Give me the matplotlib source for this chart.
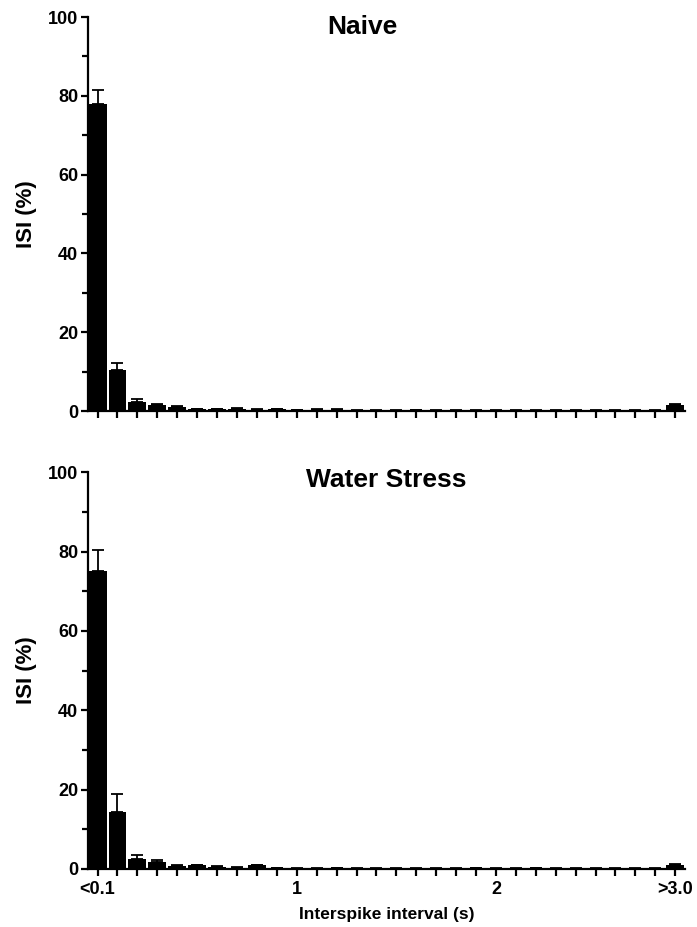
import numpy as np
import matplotlib
matplotlib.use('Agg')
import matplotlib.pyplot as plt
from matplotlib.ticker import MultipleLocator

plt.rcParams['font.family'] = ['Liberation Sans', 'DejaVu Sans']
plt.rcParams['font.weight'] = 'bold'

# 30 bins of 0.1 s: <0.1 ... >3.0
tick_labels = {0: '<0.1', 10: '1', 20: '2', 29: '>3.0'}

naive_mean = [78.0, 10.5, 2.3, 1.5, 1.0, 0.4, 0.5, 0.6, 0.3, 0.4,
              0.2, 0.3, 0.3, 0.1, 0.1, 0.1, 0.2, 0.1, 0.1, 0.1,
              0.1, 0.1, 0.1, 0.1, 0.1, 0.1, 0.1, 0.1, 0.1, 1.5]
naive_err = [3.5, 1.8, 0.7, 0.3, 0.2, 0.1, 0.1, 0.2, 0.1, 0.1,
             0.05, 0.1, 0.1, 0.05, 0.05, 0.05, 0.1, 0.05, 0.05, 0.05,
             0.05, 0.05, 0.05, 0.05, 0.05, 0.05, 0.05, 0.05, 0.05, 0.3]

stress_mean = [75.0, 14.3, 2.4, 1.8, 0.8, 0.9, 0.6, 0.3, 0.9, 0.2,
               0.1, 0.1, 0.2, 0.1, 0.1, 0.1, 0.1, 0.1, 0.1, 0.2,
               0.1, 0.1, 0.2, 0.1, 0.1, 0.1, 0.1, 0.1, 0.1, 1.0]
stress_err = [5.5, 4.5, 1.1, 0.4, 0.2, 0.2, 0.1, 0.1, 0.2, 0.05,
              0.05, 0.05, 0.1, 0.05, 0.05, 0.05, 0.05, 0.05, 0.05, 0.1,
              0.05, 0.05, 0.1, 0.05, 0.05, 0.05, 0.05, 0.05, 0.05, 0.3]

fig = plt.figure(figsize=(6.97, 9.27), dpi=100)
ax_top = fig.add_axes([0.126, 0.5566, 0.857, 0.425])
ax_bot = fig.add_axes([0.126, 0.0626, 0.857, 0.428])


def draw_panel(ax, mean, err, title, title_x, title_y, show_labels):
    x = np.arange(len(mean))
    ax.bar(x, mean, width=0.9, color='black', edgecolor='black', linewidth=0)
    ax.errorbar(x, mean, yerr=[np.zeros(len(err)), err], fmt='none',
                ecolor='black', elinewidth=1.3, capsize=4, capthick=1.3)
    ax.set_xlim(-0.49, 29.5)
    ax.set_ylim(0, 100)
    ax.yaxis.set_major_locator(MultipleLocator(20))
    ax.yaxis.set_minor_locator(MultipleLocator(10))
    ax.set_xticks(x)
    if show_labels:
        ax.set_xticklabels([tick_labels.get(i, '') for i in x])
        ax.set_xlabel('Interspike interval (s)', fontsize=12.5, fontweight='bold', labelpad=6)
    else:
        ax.set_xticklabels([])
    for s in ['top', 'right']:
        ax.spines[s].set_visible(False)
    for s in ['left', 'bottom']:
        ax.spines[s].set_linewidth(1.6)
    ax.tick_params(axis='both', which='major', length=5, width=1.6,
                   labelsize=13, pad=2)
    ax.tick_params(axis='x', which='major', pad=4)
    ax.tick_params(axis='y', which='minor', length=4, width=1.6)
    for lbl in ax.get_xticklabels() + ax.get_yticklabels():
        lbl.set_fontweight('bold')
    ax.set_ylabel('ISI (%)', fontsize=16, fontweight='bold', labelpad=8)
    ax.text(title_x, title_y, title, transform=ax.transAxes, ha='center', va='center',
            fontsize=19, fontweight='bold')


draw_panel(ax_top, naive_mean, naive_err, 'Naive', 0.46, 0.975, False)
draw_panel(ax_bot, stress_mean, stress_err, 'Water Stress', 0.5, 0.98, True)

fig.savefig('out.png', dpi=100)
